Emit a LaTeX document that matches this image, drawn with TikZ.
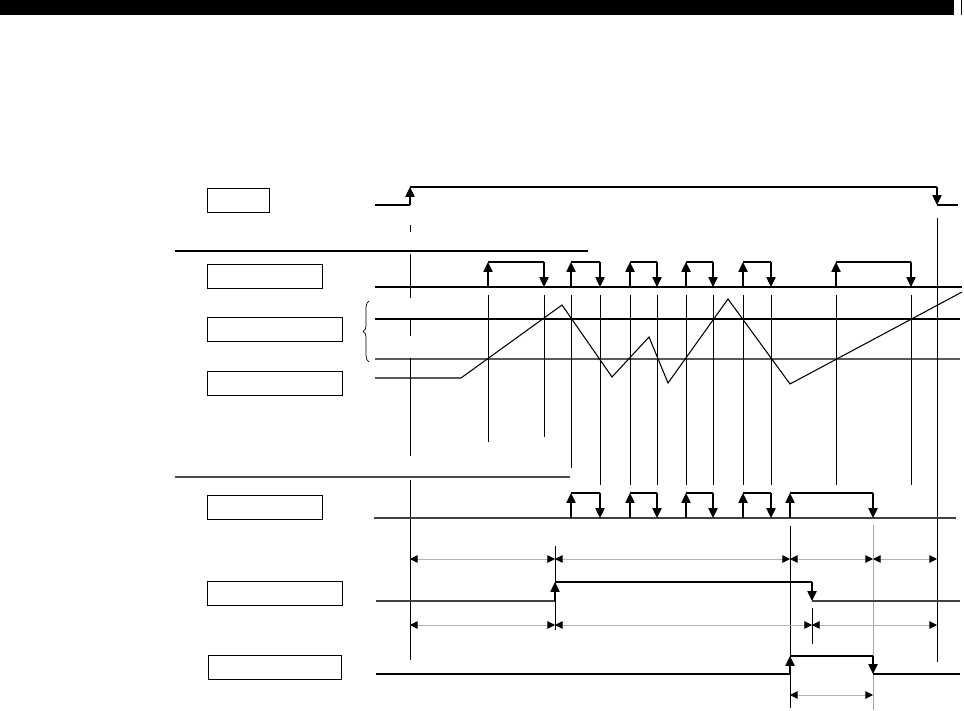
\documentclass[tikz,border=0pt]{standalone}
\usetikzlibrary{arrows.meta,decorations.pathreplacing}

\begin{document}
\begin{tikzpicture}[x=0.03cm,y=-0.03cm,
    sig/.style={line width=0.9pt},
    edge/.style={line width=0.9pt,-{Triangle[width=8pt,length=8.5pt]}},
    cut/.style={line width=0.8pt},
    lbl/.style={draw,line width=0.9pt,inner sep=0pt,minimum height=0.72cm,anchor=north west},
    dim/.style={gray!60,line width=0.8pt,
      {Triangle[color=black,width=6.5pt,length=6.5pt]}-{Triangle[color=black,width=6.5pt,length=6.5pt]}}]
  \useasboundingbox (0,0) rectangle (964,711);
  % header bar
  \fill (0,0) rectangle (954,15);
  \draw[line width=0.6pt] (961,0) -- (961,15);

  % label boxes
  \node[lbl,minimum width=1.86cm] (startbox) at (207,188) {};
  \node[lbl,minimum width=3.45cm] (pulsebox) at (207,264) {};
  \node[lbl,minimum width=4.05cm] (upperbox) at (207,317) {};
  \node[lbl,minimum width=4.05cm] (lowerbox) at (207,371) {};
  \node[lbl,minimum width=3.45cm] (outbox) at (207,495) {};
  \node[lbl,minimum width=4.05cm] (timerbox) at (207,581) {};
  \node[lbl,minimum width=4.0cm] (donebox) at (208,655) {};

  % separators
  \draw[line width=0.9pt] (175,251) -- (588,251);
  \draw[line width=0.9pt,black!70] (175,477) -- (570,477);

  % brace over the two levels
  \draw[line width=0.6pt,decorate,decoration={brace,amplitude=5pt}] (369,362) -- (369,301);

  % start signal
  \draw[sig] (375,205) -- (410,205);
  \draw[edge] (410,205) -- (410,187);
  \draw[sig] (410,187) -- (937,187);
  \draw[edge] (937,187) -- (937,205);
  \draw[sig] (937,205) -- (958,205);

  % pulse input
  \draw[sig] (375,287) -- (962,287);
  \foreach \a/\b in {488/544,571/600,630/657,686/713,743/771,836/911}{
    \draw[edge] (\a,287) -- (\a,262);
    \draw[sig] (\a,262) -- (\b,262);
    \draw[edge] (\b,262) -- (\b,287);
  }

  % levels and waveform
  \draw[sig] (375,319) -- (960,319);
  \draw[line width=1.3pt,black!65] (375,359) -- (960,359);
  \draw[sig] (375,378) -- (461,378) -- (562,305) -- (612,377) -- (649,337)
    -- (668,383) -- (728,299) -- (790,384) -- (962,292);

  % time marks
  \foreach \y/\z in {225/232,254/298,320/336,358/456,480/660}
    \draw[cut] (410,\y) -- (410,\z);
  \draw[cut] (488,295) -- (488,442);
  \draw[cut] (544,295) -- (544,437);
  \draw[cut] (571,295) -- (571,468);
  \foreach \x in {600,630,657,686,713,743,771,836,911}
    \draw[cut] (\x,295) -- (\x,485);
  \draw[cut] (937,218) -- (937,662);
  \draw[cut] (555,546) -- (555,630);
  \draw[cut] (790,526) -- (790,708);
  \draw[cut,gray!70] (873,525) -- (873,710);
  \draw[cut] (812,608) -- (812,644);

  % output
  \draw[sig,black!75] (374,518) -- (956,518);
  \foreach \a/\b in {571/600,630/657,686/713,743/771,790/873}{
    \draw[edge] (\a,518) -- (\a,493);
    \draw[sig] (\a,493) -- (\b,493);
    \draw[edge] (\b,493) -- (\b,518);
  }

  % timer
  \draw[sig,black!75] (376,601) -- (555,601);
  \draw[edge] (555,601) -- (555,582);
  \draw[sig] (555,582) -- (812,582);
  \draw[edge] (812,582) -- (812,601);
  \draw[sig,black!75] (812,601) -- (960,601);

  % done
  \draw[sig] (376,674) -- (790,674);
  \draw[edge] (790,674) -- (790,656);
  \draw[sig] (790,656) -- (873,656);
  \draw[edge] (873,656) -- (873,674);
  \draw[sig] (873,674) -- (960,674);

  % intervals
  \draw[dim] (410,559) -- (555,559);
  \draw[dim] (555,559) -- (790,559);
  \draw[dim] (790,559) -- (873,559);
  \draw[dim] (873,559) -- (937,559);
  \draw[dim] (410,625) -- (555,625);
  \draw[dim] (555,625) -- (812,625);
  \draw[dim] (812,625) -- (937,625);
  \draw[dim] (790,695) -- (873,695);
\end{tikzpicture}
\end{document}
